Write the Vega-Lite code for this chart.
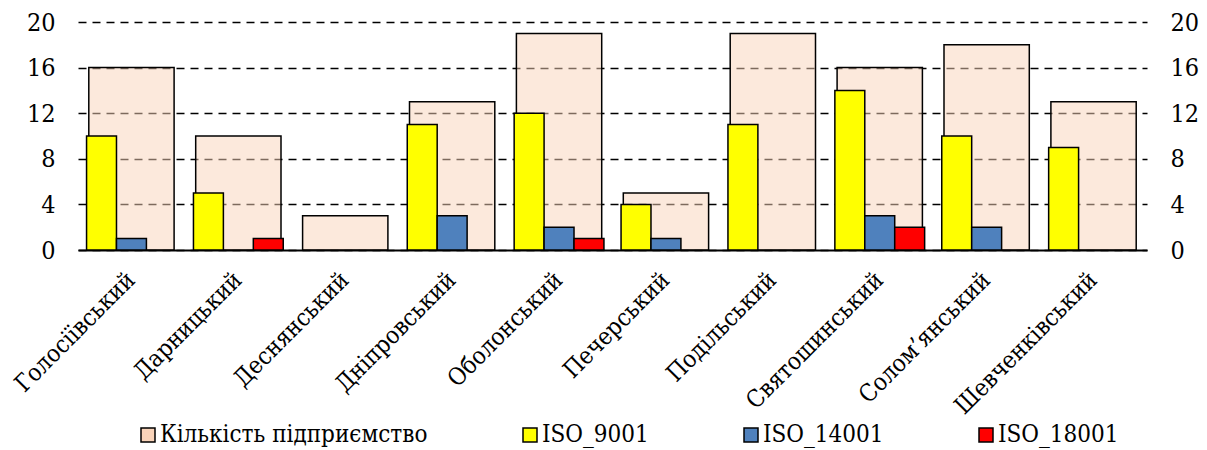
{
  "$schema": "https://vega.github.io/schema/vega-lite/v6.json",
  "width": 1069,
  "height": 228,
  "autosize": "none",
  "padding": {"left": 78, "top": 22, "right": 60, "bottom": 200},
  "config": {
    "font": "DejaVu Serif Condensed",
    "view": {"stroke": null},
    "axis": {
      "labelFont": "DejaVu Serif Condensed",
      "labelFontSize": 25,
      "labelColor": "black",
      "ticks": false,
      "title": null
    },
    "legend": {
      "labelFont": "DejaVu Serif Condensed",
      "labelFontSize": 24,
      "labelColor": "black",
      "labelLimit": 400,
      "symbolType": "square",
      "symbolSize": 196,
      "symbolStrokeColor": "black",
      "symbolStrokeWidth": 1.5,
      "symbolOpacity": 1,
      "labelOffset": 0,
      "columnPadding": 90,
      "padding": 0
    }
  },
  "data": {
    "values": [
      {"district": "Голосіївський", "series": "Кількість підприємство", "value": 16},
      {"district": "Голосіївський", "series": "ISO_9001", "value": 10},
      {"district": "Голосіївський", "series": "ISO_14001", "value": 1},
      {"district": "Голосіївський", "series": "ISO_18001", "value": 0},
      {"district": "Дарницький", "series": "Кількість підприємство", "value": 10},
      {"district": "Дарницький", "series": "ISO_9001", "value": 5},
      {"district": "Дарницький", "series": "ISO_14001", "value": 0},
      {"district": "Дарницький", "series": "ISO_18001", "value": 1},
      {"district": "Деснянський", "series": "Кількість підприємство", "value": 3},
      {"district": "Деснянський", "series": "ISO_9001", "value": 0},
      {"district": "Деснянський", "series": "ISO_14001", "value": 0},
      {"district": "Деснянський", "series": "ISO_18001", "value": 0},
      {"district": "Дніпровський", "series": "Кількість підприємство", "value": 13},
      {"district": "Дніпровський", "series": "ISO_9001", "value": 11},
      {"district": "Дніпровський", "series": "ISO_14001", "value": 3},
      {"district": "Дніпровський", "series": "ISO_18001", "value": 0},
      {"district": "Оболонський", "series": "Кількість підприємство", "value": 19},
      {"district": "Оболонський", "series": "ISO_9001", "value": 12},
      {"district": "Оболонський", "series": "ISO_14001", "value": 2},
      {"district": "Оболонський", "series": "ISO_18001", "value": 1},
      {"district": "Печерський", "series": "Кількість підприємство", "value": 5},
      {"district": "Печерський", "series": "ISO_9001", "value": 4},
      {"district": "Печерський", "series": "ISO_14001", "value": 1},
      {"district": "Печерський", "series": "ISO_18001", "value": 0},
      {"district": "Подільський", "series": "Кількість підприємство", "value": 19},
      {"district": "Подільський", "series": "ISO_9001", "value": 11},
      {"district": "Подільський", "series": "ISO_14001", "value": 0},
      {"district": "Подільський", "series": "ISO_18001", "value": 0},
      {"district": "Святошинський", "series": "Кількість підприємство", "value": 16},
      {"district": "Святошинський", "series": "ISO_9001", "value": 14},
      {"district": "Святошинський", "series": "ISO_14001", "value": 3},
      {"district": "Святошинський", "series": "ISO_18001", "value": 2},
      {"district": "Солом’янський", "series": "Кількість підприємство", "value": 18},
      {"district": "Солом’янський", "series": "ISO_9001", "value": 10},
      {"district": "Солом’янський", "series": "ISO_14001", "value": 2},
      {"district": "Солом’янський", "series": "ISO_18001", "value": 0},
      {"district": "Шевченківський", "series": "Кількість підприємство", "value": 13},
      {"district": "Шевченківський", "series": "ISO_9001", "value": 9},
      {"district": "Шевченківський", "series": "ISO_14001", "value": 0},
      {"district": "Шевченківський", "series": "ISO_18001", "value": 0}
    ]
  },
  "encoding": {
    "x": {
      "field": "district",
      "type": "nominal",
      "sort": null,
      "scale": {"paddingInner": 0.16, "paddingOuter": 0.08},
      "axis": {
        "labelFont": "DejaVu Serif Condensed",
        "labelFontSize": 24,
        "labelAngle": -45,
        "labelAlign": "right",
        "labelBaseline": "middle",
        "labelPadding": 26,
        "labelOffset": 0,
        "labelLimit": 300,
        "domainColor": "black",
        "domainWidth": 2,
        "grid": false
      }
    },
    "color": {
      "field": "series",
      "type": "nominal",
      "scale": {
        "domain": ["Кількість підприємство", "ISO_9001", "ISO_14001", "ISO_18001"],
        "range": ["#f9d3b9", "#ffff00", "#4f81bd", "#ff0000"]
      },
      "legend": {
        "title": null,
        "orient": "none",
        "direction": "horizontal",
        "labelFont": "DejaVu Serif Condensed",
        "labelFontSize": 24,
        "legendX": 58,
        "legendY": 401
      }
    }
  },
  "layer": [
    {
      "transform": [{"filter": "datum.series === 'Кількість підприємство'"}],
      "mark": {"type": "bar", "width": {"band": 0.95}, "fillOpacity": 0.5, "stroke": "black", "strokeWidth": 1.5},
      "encoding": {
        "y": {
          "field": "value",
          "type": "quantitative",
          "scale": {"domain": [0, 20]},
          "axis": {
            "orient": "left",
            "labelFont": "DejaVu Serif Condensed",
            "labelFontSize": 25,
            "values": [0, 4, 8, 12, 16, 20],
            "domain": false,
            "labelPadding": 23,
            "grid": true,
            "gridColor": "black",
            "gridWidth": 1.6,
            "gridDash": [8, 6]
          }
        }
      }
    },
    {
      "transform": [{"filter": "datum.series !== 'Кількість підприємство' && datum.value > 0"}],
      "mark": {"type": "bar", "stroke": "black", "strokeWidth": 1.5},
      "encoding": {
        "y": {
          "field": "value",
          "type": "quantitative",
          "scale": {"domain": [0, 20]},
          "axis": {
            "orient": "right",
            "labelFont": "DejaVu Serif Condensed",
            "labelFontSize": 25,
            "values": [0, 4, 8, 12, 16, 20],
            "domain": false,
            "labelPadding": 23,
            "grid": false
          }
        },
        "xOffset": {
          "field": "series",
          "scale": {"domain": ["ISO_9001", "ISO_14001", "ISO_18001"]}
        }
      }
    }
  ],
  "resolve": {"axis": {"y": "independent"}}
}
